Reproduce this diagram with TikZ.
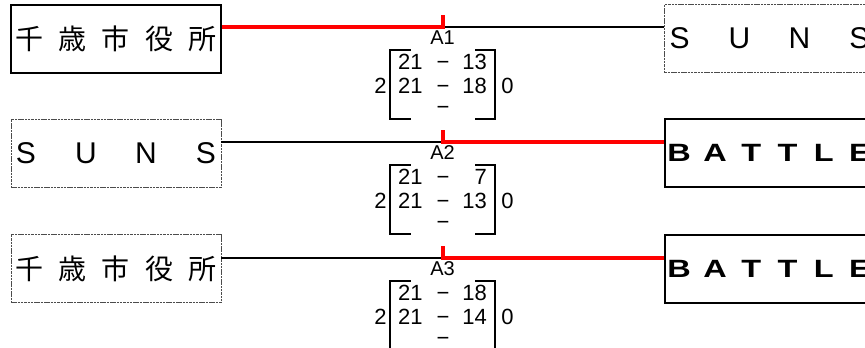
\documentclass[tikz,border=0pt]{standalone}
\usepackage{fontspec}
\setmainfont{Liberation Sans}
\newfontfamily\jpfont{Noto Sans CJK JP}
\newfontfamily\widefont[FakeStretch=1.3]{Liberation Sans}
\usetikzlibrary{positioning}
\newcommand{\spaced}[2]{\makebox[0pt]{\foreach \ch in {#2}{\makebox[#1]{\ch}}}}
\tikzset{
  teambox/.style={
    rectangle, draw=black, line width=2pt,
    minimum width=210pt, minimum height=68pt, inner sep=0pt
  },
  dotbox/.style={
    teambox, draw=black!70, line width=0.9pt,
    dash pattern=on 2.5pt off 0.8pt
  },
  jpname/.style={font=\fontsize{28}{30}\jpfont},
  latname/.style={font=\fontsize{30}{32}\selectfont},
  widename/.style={font=\fontsize{25}{28}\widefont\bfseries},
  frame/.style={rectangle, minimum width=105pt, minimum height=69pt, inner sep=0pt},
  score/.style={inner sep=0pt, font=\fontsize{22}{24}\selectfont},
  roundlabel/.style={inner sep=0pt, font=\fontsize{20}{22}\selectfont},
  bracket/.style={line width=2pt},
  loseline/.style={line width=2pt},
  winline/.style={red, line width=4.5pt}
}

\begin{document}
\begin{tikzpicture}[x=1pt, y=-1pt]

\useasboundingbox (0,0) rectangle (865,348);
\clip (0,0) rectangle (865,348);

% ── Team boxes ────────────────────────────────────────────────────────────────

\node[teambox, jpname] (L1) at (116,38.5) {\spaced{43.4pt}{千,歳,市,役,所}};
\node[dotbox, latname] (R1) at (769.5,38.5) {\spaced{60pt}{S,U,N,S}};

\node[dotbox, latname] (L2) at (116,153.5) {\spaced{60pt}{S,U,N,S}};
\node[teambox, widename] (R2) at (769.5,153) {\spaced{36.2pt}{B,A,T,T,L,E}};

\node[dotbox, jpname] (L3) at (116,268.5) {\spaced{43.4pt}{千,歳,市,役,所}};
\node[teambox, widename] (R3) at (769.5,268.5) {\spaced{36.2pt}{B,A,T,T,L,E}};

% ── Match points ──────────────────────────────────────────────────────────────

\coordinate (m1) at (443,27);
\coordinate (t1) at (443,15);
\coordinate (m2) at (443,142);
\coordinate (t2) at (443,130);
\coordinate (m3) at (443,258);
\coordinate (t3) at (443,246);

% ── Score blocks ──────────────────────────────────────────────────────────────

\node[frame] (br1) at (442.5,84.5) {};
\node[frame] (br2) at (442.5,199.5) {};
\node[frame] (br3) at (442.5,315.5) {};

\node[roundlabel, above=5pt of br1] (a1) {A1};
\node[roundlabel, above=5pt of br2] (a2) {A2};
\node[roundlabel, above=5pt of br3] (a3) {A3};

\node[score, anchor=north, yshift=-3.1pt] (sc1) at (br1.north) {%
  \begin{tabular}{@{}r@{\hspace{14pt}}c@{\hspace{13pt}}r@{}}
    21&−&13\\
    21&−&18\\\noalign{\vskip-3pt}
    &−&
  \end{tabular}};
\node[score, anchor=north, yshift=-3.1pt] (sc2) at (br2.north) {%
  \begin{tabular}{@{}r@{\hspace{14pt}}c@{\hspace{13pt}}r@{}}
    21&−&7\\
    21&−&13\\\noalign{\vskip-3pt}
    &−&
  \end{tabular}};
\node[score, anchor=north, yshift=-3.1pt] (sc3) at (br3.north) {%
  \begin{tabular}{@{}r@{\hspace{14pt}}c@{\hspace{13pt}}r@{}}
    21&−&18\\
    21&−&14\\\noalign{\vskip-3pt}
    &−&
  \end{tabular}};

\node[score, left=3pt of br1, yshift=-1.5pt] (w1) {2};
\node[score, right=6pt of br1, yshift=-1.5pt] (l1) {0};
\node[score, left=3pt of br2, yshift=-1.5pt] (w2) {2};
\node[score, right=6pt of br2, yshift=-1.5pt] (l2) {0};
\node[score, left=3pt of br3, yshift=-1.5pt] (w3) {2};
\node[score, right=6pt of br3, yshift=-1.5pt] (l3) {0};

% brackets round the scores
\foreach \b in {br1, br2, br3} {
  \draw[bracket] ([xshift=21pt]\b.north west) -- (\b.north west)
    -- (\b.south west) -- ([xshift=21pt]\b.south west);
  \draw[bracket] ([xshift=-20pt]\b.north east) -- (\b.north east)
    -- (\b.south east) -- ([xshift=-20pt]\b.south east);
}

% ── Bracket lines ─────────────────────────────────────────────────────────────

\draw[loseline] (m1) -- (m1 -| R1.west);
\draw[loseline] (m2 -| L2.east) -- (m2);
\draw[loseline] (m3 -| L3.east) -- (m3);

\draw[winline] (m1 -| L1.east) -- (m1) -- (t1);
\draw[winline] (m2 -| R2.west) -- (m2) -- (t2);
\draw[winline] (m3 -| R3.west) -- (m3) -- (t3);

\end{tikzpicture}
\end{document}
